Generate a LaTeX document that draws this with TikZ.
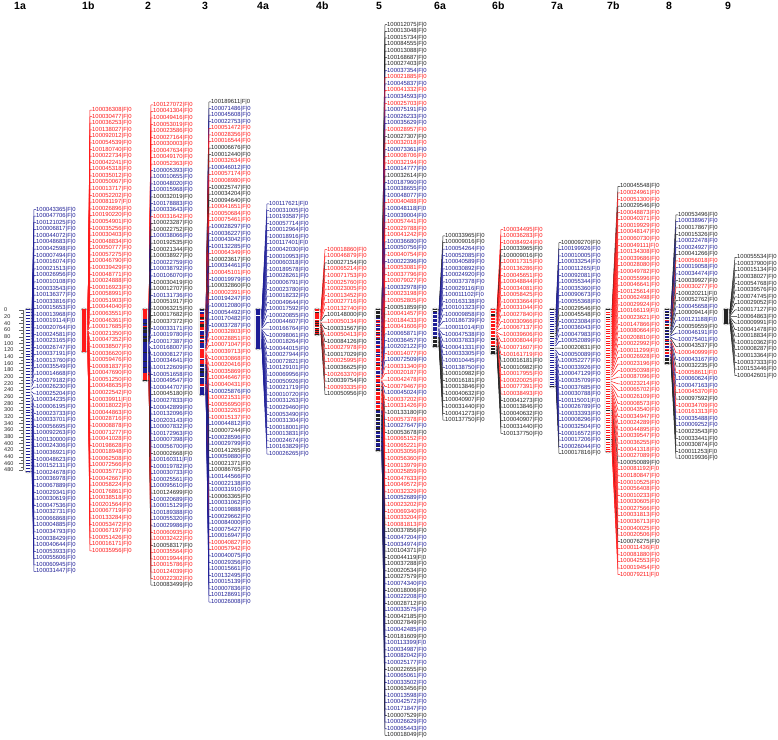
\documentclass[tikz,border=0pt]{standalone}
\usepackage{fontspec}
\setmainfont{Liberation Sans}
\definecolor{mb}{RGB}{30,30,150}
\definecolor{mr}{RGB}{255,25,25}
\definecolor{mk}{RGB}{35,35,35}
\tikzset{
    chrbar/.style={rectangle, rounded corners=2.5pt, minimum width=6pt, inner sep=0pt, draw=black!50, fill=white, line width=0.4pt},
    mlabel/.style={anchor=west, inner sep=0pt, font=\fontsize{5.9}{6}\selectfont},
    mlink/.style={line width=0.5pt},
    mtick/.style={line width=0.3pt},
    chrname/.style={anchor=west, inner sep=0pt, font=\bfseries\fontsize{10.5}{11}\selectfont},
    scalelbl/.style={anchor=west, inner sep=0pt, font=\fontsize{5.5}{6}\selectfont, text=black!85},
    scaletick/.style={line width=0.3pt, black!60},
}
% one linkage group: #1 name, #2 bar x, #3 bar length, #4 label x, #5 marker/colour list
\newcommand{\linkgroup}[5]{%
  \foreach \id/\c [count=\n] in {#5} {\xdef\nmark{\n}}
  \node[chrbar, minimum height=#3] (bar#1) at ({#2+3}, {-308-#3/2}) {};
  \foreach \id/\c [count=\i] in {#5} {
    \pgfmathsetmacro\my{-309.5-(\i-1)/(\nmark-1)*(#3-3)}
    \pgfmathsetmacro\ly{-308-#3/2+(\nmark-1)*3.29-(\i-1)*6.58}
    \coordinate (m#1-\i) at ({#2+6}, \my);
    \node[mlabel, text=\c] (l#1-\i) at (#4, \ly) {\id|F|0};
    \draw[mtick, color=\c] ([xshift=-0.6pt]m#1-\i) -- ++(-4.8,0);
    \draw[mlink, color=\c] (m#1-\i) -- ++(1,0) -- ([xshift=-2pt]l#1-\i.west) -- (l#1-\i.west);
  }
}

\begin{document}
\begin{tikzpicture}[x=1pt, y=1pt]
\useasboundingbox (0,0) rectangle (778,-739);

% Group names
\node[chrname] (h1a) at (14,-6) {1a};
\node[chrname] (h1b) at (82,-6) {1b};
\node[chrname] (h2) at (145,-6) {2};
\node[chrname] (h3) at (202,-6) {3};
\node[chrname] (h4a) at (257,-6) {4a};
\node[chrname] (h4b) at (316,-6) {4b};
\node[chrname] (h5) at (376,-6) {5};
\node[chrname] (h6a) at (434,-6) {6a};
\node[chrname] (h6b) at (492,-6) {6b};
\node[chrname] (h7a) at (551,-6) {7a};
\node[chrname] (h7b) at (607,-6) {7b};
\node[chrname] (h8) at (666,-6) {8};
\node[chrname] (h9) at (725,-6) {9};

% cM scale
\foreach \v in {0,20,...,480} {
  \node[scalelbl] (s\v) at (4, {-310-\v/3}) {\v};
  \draw[scaletick] (19, {-310-\v/3}) -- (23, {-310-\v/3});
}
\foreach \v in {10,30,...,470} \draw[scaletick] (21, {-310-\v/3}) -- (23, {-310-\v/3});
\draw[scaletick] (23,-310) -- (23,-470);

% Group 1a
\linkgroup{1a}{25}{165}{36}{100043365/mb, 100047706/mb, 100121025/mb, 100006817/mb, 100044072/mb, 100048683/mb, 100042598/mb, 100007494/mb, 100016074/mb, 100021513/mb,
 100026956/mb, 100010108/mb, 100033543/mb, 100136377/mb, 100033816/mb, 100015653/mb, 100013968/mb, 100019114/mb, 100020764/mb, 100024581/mb,
 100023165/mb, 100026747/mb, 100037191/mb, 100013760/mb, 100035549/mb, 100014668/mb, 100079182/mb, 100026230/mb, 100025204/mb, 100034235/mb,
 100006195/mb, 100023733/mb, 100033701/mb, 100056695/mb, 100092263/mb, 100130000/mb, 100024306/mb, 100036921/mb, 100048623/mb, 100152131/mb,
 100024678/mb, 100036978/mb, 100067889/mb, 100029341/mb, 100030619/mb, 100047536/mb, 100032731/mb, 100066868/mb, 100004885/mb, 100034793/mb,
 100038429/mb, 100040644/mb, 100053933/mb, 100055606/mb, 100060945/mb, 100031447/mb}

% Group 1b
\linkgroup{1b}{81}{45}{92}{100036308/mr, 100030477/mr, 100036253/mr, 100138027/mr, 100092012/mr, 100054539/mr, 100180740/mr, 100022734/mr, 100042241/mr, 100045318/mr,
 100035012/mr, 100050067/mr, 100013717/mr, 100052202/mr, 100081197/mr, 100026896/mr, 100190220/mr, 100054901/mr, 100035256/mr, 100030403/mr,
 100048834/mr, 100050777/mr, 100057275/mr, 100046790/mr, 100039429/mr, 100048771/mr, 100024888/mr, 100016923/mr, 100058991/mr, 100051903/mr,
 100044040/mr, 100063551/mr, 100046361/mr, 100017685/mr, 100021350/mr, 100047352/mr, 100038507/mr, 100036620/mr, 100059476/mr, 100081837/mr,
 100047690/mr, 100051250/mr, 100048635/mr, 100022542/mr, 100039911/mr, 100018022/mr, 100044863/mr, 100028716/mr, 100008878/mr, 100071277/mr,
 100041028/mr, 100198628/mr, 100018948/mr, 100062508/mr, 100072566/mr, 100035771/mr, 100042667/mr, 100058224/mr, 100176861/mr, 100038518/mr,
 100201564/mr, 100067719/mr, 100133284/mr, 100053472/mr, 100067197/mr, 100051426/mr, 100016171/mr, 100035956/mr}

% Group 2
\linkgroup{2}{142}{74}{153}{100127072/mr, 100041304/mr, 100049416/mr, 100053019/mr, 100023586/mr, 100027164/mr, 100030003/mr, 100047634/mr, 100049170/mr, 100052363/mr,
 100005393/mb, 100010655/mb, 100048020/mb, 100015968/mb, 100032019/mk, 100178883/mb, 100033643/mb, 100031642/mr, 100023287/mk, 100022752/mk,
 100038066/mb, 100192535/mk, 100021344/mk, 100038927/mk, 100022759/mb, 100038792/mb, 100106070/mb, 100030419/mk, 100012707/mk, 100131736/mb,
 100051917/mk, 100063215/mk, 100017682/mk, 100037372/mk, 100033171/mb, 100019780/mb, 100017387/mb, 100168007/mb, 100008127/mb, 100034641/mb,
 100122609/mb, 100051658/mb, 100049547/mb, 100044707/mb, 100045180/mk, 100027833/mb, 100042899/mb, 100132096/mb, 100203143/mb, 100007832/mb,
 100172963/mb, 100007398/mb, 100056700/mb, 100002668/mk, 100160311/mb, 100019782/mb, 100030733/mb, 100025561/mb, 100095610/mb, 100124699/mk,
 100020689/mb, 100015129/mb, 100189388/mb, 100055320/mb, 100029986/mb, 100060935/mr, 100032422/mr, 100058317/mk, 100035564/mr, 100019944/mr,
 100015786/mr, 100124039/mr, 100022302/mr, 100083499/mk}

% Group 3
\linkgroup{3}{199}{88}{211}{100189611/mk, 100071486/mb, 100045608/mb, 100022753/mb, 100051472/mr, 100028356/mr, 100016544/mr, 100006676/mk, 100012440/mk, 100032634/mr,
 100046012/mb, 100057174/mr, 100008980/mr, 100025747/mk, 100034204/mk, 100094640/mk, 100041651/mr, 100050684/mr, 100075461/mr, 100028297/mb,
 100036227/mb, 100043042/mb, 100132285/mb, 100064349/mr, 100023617/mk, 100034461/mb, 100045101/mr, 100019979/mb, 100032860/mk, 100002391/mr,
 100194247/mb, 100012080/mb, 100054492/mb, 100170482/mb, 100037287/mb, 100032803/mr, 100028851/mr, 100071047/mr, 100039713/mr, 100030868/mr,
 100020416/mr, 100035869/mr, 100046467/mr, 100040431/mr, 100025876/mb, 100021531/mr, 100056950/mr, 100032263/mr, 100015137/mr, 100044812/mb,
 100007244/mk, 100028596/mb, 100029799/mb, 100141265/mk, 100059880/mb, 100021371/mk, 100086765/mk, 100144566/mb, 100022138/mb, 100031910/mb,
 100063365/mk, 100031062/mb, 100019888/mb, 100029662/mb, 100084000/mb, 100075427/mb, 100016947/mb, 100040827/mr, 100057942/mr, 100040075/mb,
 100029356/mb, 100015661/mb, 100132495/mb, 100015139/mb, 100007836/mb, 100128691/mb, 100026008/mb}

% Group 4a
\linkgroup{4a}{255}{42}{269}{100117621/mb, 100031005/mb, 100193587/mb, 100057714/mb, 100012964/mb, 100018916/mb, 100117401/mb, 100042030/mb, 100010953/mb, 100060318/mb,
 100189578/mb, 100028261/mb, 100006791/mb, 100023780/mb, 100018232/mb, 100049644/mb, 100017592/mb, 100020855/mb, 100044607/mb, 100166764/mb,
 100098061/mb, 100018264/mb, 100044015/mb, 100027944/mb, 100072821/mb, 100129101/mb, 100069956/mb, 100050926/mb, 100021719/mb, 100010720/mb,
 100031263/mb, 100029460/mb, 100053490/mb, 100031304/mb, 100018001/mb, 100013831/mb, 100024674/mb, 100163829/mb, 100026265/mb}

% Group 4b
\linkgroup{4b}{314}{28}{327}{100018860/mr, 100046879/mr, 100027154/mk, 100065214/mr, 100071753/mr, 100025760/mr, 100023005/mr, 100013452/mr, 100027716/mr, 100132740/mr,
 100148000/mk, 100050134/mr, 100031567/mk, 100050413/mr, 100084126/mk, 100027978/mr, 100017029/mk, 100025995/mr, 100036625/mk, 100263370/mr,
 100039754/mk, 100093335/mr, 100050956/mk}

% Group 5
\linkgroup{5}{375}{144}{387}{100012075/mk, 100013048/mk, 100015734/mk, 100084555/mk, 100013088/mk, 100168687/mk, 100027403/mk, 100037354/mb, 100021885/mr, 100045837/mb,
 100041332/mr, 100034593/mb, 100025703/mr, 100075191/mb, 100026233/mb, 100035629/mb, 100028957/mr, 100027307/mk, 100032018/mr, 100073361/mb,
 100008706/mr, 100032194/mr, 100014777/mb, 100032614/mk, 100187960/mb, 100038655/mb, 100048077/mb, 100040488/mr, 100048118/mb, 100039004/mb,
 100057441/mr, 100029788/mr, 100041242/mr, 100036680/mb, 100050756/mb, 100040754/mr, 100022396/mb, 100053081/mr, 100037796/mr, 100079027/mr,
 100032978/mb, 100023198/mr, 100052805/mr, 100051859/mk, 100041457/mr, 100184433/mr, 100041606/mr, 100065871/mb, 100036457/mb, 100202122/mb,
 100014077/mr, 100072509/mb, 100031340/mr, 100020187/mr, 100042478/mr, 100079467/mr, 100045024/mb, 100037202/mr, 100031426/mr, 100133180/mk,
 100057378/mr, 100027647/mb, 100053678/mk, 100065152/mr, 100065221/mr, 100053056/mr, 100056360/mr, 100013979/mr, 100025859/mr, 100047633/mr,
 100049572/mr, 100032329/mr, 100052689/mb, 100023202/mr, 100069340/mr, 100033204/mr, 100081813/mr, 100037856/mk, 100047204/mb, 100034974/mb,
 100104371/mk, 100044119/mk, 100037288/mk, 100020534/mk, 100027579/mk, 100074340/mb, 100018006/mk, 100022208/mb, 100028712/mk, 100033575/mb,
 100042185/mk, 100027849/mk, 100042485/mb, 100181609/mk, 100113399/mb, 100034987/mb, 100082042/mb, 100025177/mb, 100022655/mk, 100065061/mb,
 100033502/mb, 100063456/mk, 100013598/mb, 100042572/mb, 100171847/mb, 100007529/mk, 100026629/mb, 100065443/mb, 100018049/mk}

% Group 6a
\linkgroup{6a}{432}{40}{445}{100033965/mk, 100009016/mk, 100054264/mb, 100052085/mb, 100040589/mb, 100030892/mb, 100024920/mb, 100037378/mb, 100029116/mb, 100011102/mb,
 100163138/mb, 100101323/mb, 100009858/mb, 100186739/mb, 100011014/mb, 100047538/mb, 100037833/mb, 100041331/mb, 100033305/mb, 100010445/mb,
 100138750/mb, 100010982/mk, 100016181/mk, 100013846/mk, 100040632/mk, 100040907/mk, 100031440/mk, 100041273/mk, 100137750/mk}

% Group 6b
\linkgroup{6b}{490}{47}{503}{100034495/mr, 100036283/mr, 100084924/mr, 100033965/mk, 100009016/mk, 100017315/mr, 100136286/mr, 100045651/mr, 100048844/mr, 100034081/mr,
 100058425/mr, 100033664/mr, 100031044/mr, 100027840/mr, 100030966/mr, 100067137/mr, 100039606/mr, 100008044/mr, 100071607/mr, 100161719/mr,
 100016181/mk, 100010982/mk, 100017955/mr, 100020025/mr, 100077391/mr, 100038493/mr, 100041273/mk, 100013846/mk, 100040632/mk, 100040907/mk,
 100031440/mk, 100137750/mk}

% Group 7a
\linkgroup{7a}{549}{80}{561}{100009270/mk, 100199926/mb, 100010005/mb, 100033254/mb, 100011265/mb, 100092081/mb, 100055344/mb, 100035360/mb, 100090673/mb, 100055368/mb,
 100029546/mk, 100045548/mk, 100023084/mb, 100036043/mb, 100047983/mb, 100052089/mb, 100020831/mk, 100050089/mb, 100052277/mb, 100033926/mb,
 100047129/mb, 100035709/mb, 100037685/mb, 100030788/mb, 100115001/mb, 100026789/mb, 100033393/mb, 100008296/mb, 100032504/mb, 100016572/mb,
 100017206/mb, 100026044/mb, 100017816/mk}

% Group 7b
\linkgroup{7b}{605}{145}{620}{100045548/mk, 100024961/mr, 100051300/mr, 100029546/mk, 100048873/mr, 100040371/mr, 100019929/mr, 100048147/mr, 100060730/mr, 100049111/mr,
 100134308/mr, 100039686/mr, 100028080/mr, 100049782/mr, 100055996/mr, 100046641/mr, 100125614/mr, 100062498/mr, 100029924/mr, 100166119/mr,
 100023621/mr, 100147866/mr, 100080664/mr, 100208810/mr, 100022992/mr, 100011299/mr, 100026928/mr, 100023196/mr, 100050398/mr, 100087096/mr,
 100023214/mr, 100065702/mr, 100026109/mr, 100008573/mr, 100043540/mr, 100034947/mr, 100024289/mr, 100044895/mr, 100039547/mr, 100036255/mr,
 100041318/mr, 100027089/mr, 100050089/mk, 100081192/mr, 100180847/mr, 100010525/mr, 100056408/mr, 100010233/mr, 100030605/mr, 100027566/mr,
 100031813/mr, 100036713/mr, 100040025/mr, 100020506/mr, 100076275/mk, 100011436/mr, 100081880/mr, 100042553/mr, 100019454/mr, 100079211/mr}

% Group 8
\linkgroup{8}{664}{57}{678}{100053496/mk, 100038967/mb, 100017867/mk, 100015326/mk, 100022478/mb, 100024927/mb, 100041266/mk, 100056018/mr, 100019058/mb, 100034474/mb,
 100039927/mk, 100030277/mr, 100020211/mk, 100052762/mk, 100045658/mb, 100009414/mk, 100121188/mb, 100059559/mk, 100046191/mb, 100075401/mb,
 100043537/mk, 100040999/mr, 100043167/mb, 100032235/mk, 100058611/mr, 100060624/mb, 100047163/mb, 100045370/mr, 100097592/mk, 100034709/mr,
 100161313/mr, 100035488/mb, 100009252/mb, 100023543/mk, 100033441/mk, 100030874/mk, 100011253/mk, 100019936/mk}

% Group 9
\linkgroup{9}{723}{17}{737}{100055534/mk, 100037900/mk, 100015134/mk, 100038027/mk, 100054768/mk, 100039576/mk, 100074745/mk, 100029052/mk, 100017127/mk, 100064863/mk,
 100009991/mk, 100041478/mk, 100018834/mk, 100010362/mk, 100008287/mk, 100013364/mk, 100037333/mk, 100153446/mk, 100042601/mk}
\end{tikzpicture}
\end{document}
